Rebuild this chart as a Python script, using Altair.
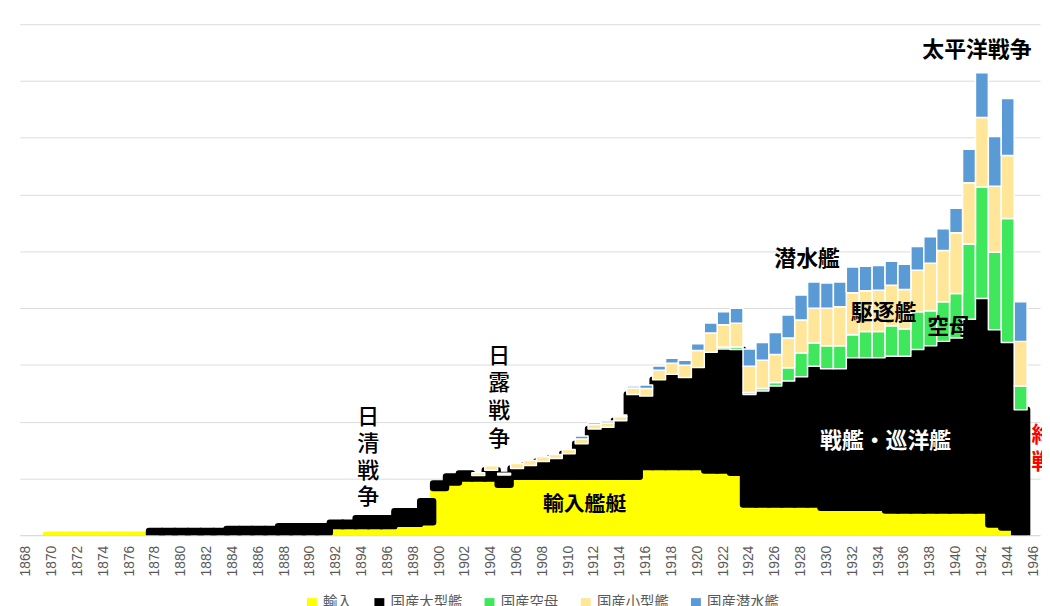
import altair as alt
import pandas as pd

years = list(range(1868, 1947))

# 輸入 (imported ships)
imports = [0, 0] + [0.14] * 8 + [0.14] * 6 + [0.4] * 8 + [1.6] * 5 + [2.0, 2.0, 2.3] + \
    [8.3, 9.3, 10.0, 10.0, 10.0, 8.9] + [10.3] * 10 + [12.0] * 5 + [11.4, 11.4, 11.0] + \
    [5.4] * 6 + [4.85] * 5 + [4.35] * 8 + [1.9, 1.35, 0, 0]

# 国産大型艦 (domestic large ships)
large = [0] * 10 + [0.6] * 6 + [0.7] * 4 + [1.2] * 4 + [0.6, 0.6, 1.4, 1.4, 1.4, 2.24, 2.24, 3.7] + \
    [0.8, 1.05, 0.87, 0.5, 1.45, 1.7, 1.45, 2.0, 2.7, 3.2, 4.06, 5.8, 8.4, 8.7, 9.87, 14.5,
     12.54, 15.37, 16.36, 15.79, 17.53, 20.84, 21.41, 21.69, 19.38, 20.01, 20.88, 21.76,
     22.52, 24.37, 24.47, 24.47, 26.39, 26.39, 26.39, 27.17, 27.17, 28.34, 29.04, 29.79,
     30.38, 33.7, 37.36, 34.28, 32.61, 22.09, 0]

# 国産空母 (domestic carriers)
carriers = [0] * 54 + [0.35, 0.47, 0.35, 0.42, 0.6, 2.33, 4.19, 4.09, 4.07, 4.07, 4.07, 4.64,
                       4.64, 5.36, 4.78, 6.68, 6.16, 6.98, 7.85, 13.26, 19.6, 13.66, 21.82, 4.19, 0]

# 国産小型艦 (domestic small ships)
small = [0] * 35 + [0.5, 0.8, 0.3, 0.87, 0.87, 0.82, 0.7, 0.75, 0.87, 0.78, 0.75, 0.74, 1.14,
                    1.29, 1.69, 1.92, 2.15, 3.02, 3.38, 3.89, 4.19, 4.64, 4.99, 4.94, 5.24, 5.81,
                    6.11, 6.58, 6.85, 7.38, 7.16, 7.28, 7.15, 6.98, 7.28, 8.37, 9.02, 10.7, 10.75,
                    12.27, 11.64, 11.11, 7.86, 0]

# 国産潜水艦 (domestic submarines)
subs = [0] * 43 + [0.52, 0.35, 0.35, 0.26, 0.35, 0.63, 0.75, 0.88, 0.87, 1.17, 1.75, 2.32, 2.62,
                   3.04, 3.14, 3.89, 4.07, 4.37, 4.64, 4.46, 4.37, 4.54, 4.31, 4.36, 4.24, 4.42,
                   4.19, 4.66, 3.84, 4.31, 5.93, 7.85, 8.73, 10.0, 6.98, 0]

series_names = ["輸入", "国産大型艦", "国産空母", "国産小型艦", "国産潜水艦"]
series_values = [imports, large, carriers, small, subs]
colors = ["#ffff00", "#000000", "#3ee75b", "#ffe699", "#5b9bd5"]

# annotations (horizontal)
ann_text = ["太平洋戦争", "潜水艦", "駆逐艦", "空母", "戦艦・巡洋艦", "輸入艦艇"]
ann_year = [1942, 1928, 1934, 1939, 1935, 1911]
ann_val = [85.5, 48.6, 39.1, 36.6, 16.5, 5.3]

# annotations (vertical, written top to bottom)
vert_text = ["日清戦争", "日露戦争", "終戦"]
vert_year = [1894, 1905, 1946]
vert_val = [20.8, 31.6, 17.6]

rows = []
for i, yr in enumerate(years):
    for k, (name, vals) in enumerate(zip(series_names, series_values)):
        rows.append({"year": yr, "series": name, "order": k, "value": vals[i]})
df = pd.DataFrame(rows)

ann_df = pd.DataFrame({"text": ann_text, "year": ann_year, "val": ann_val})
vert_df = pd.DataFrame({"text": vert_text, "year": vert_year, "val": vert_val})

FONT = "Noto Sans CJK JP"
x_scale = alt.Scale(type="band", domain=years, paddingInner=0, paddingOuter=0)
y_scale = alt.Scale(domain=[0, 90], nice=False, zero=True)

x_enc = alt.X(
    "year:O",
    scale=x_scale,
    axis=alt.Axis(
        values=[y for y in years if y % 2 == 0],
        labelAngle=270,
        labelFont="Liberation Sans",
        labelFontSize=14,
        labelColor="#595959",
        labelPadding=10,
        ticks=False,
        domain=True,
        domainColor="#d0d0d0",
        domainWidth=1,
        grid=False,
        title=None,
    ),
)
y_axis = alt.Axis(
    values=list(range(10, 91, 10)),
    grid=True,
    gridColor="#dcdcdc",
    gridWidth=1,
    domain=False,
    ticks=False,
    labels=False,
    title=None,
)
color_enc = alt.Color(
    "series:N",
    scale=alt.Scale(domain=series_names, range=colors),
    legend=alt.Legend(
        title=None,
        orient="none",
        legendX=287,
        legendY=576,
        direction="horizontal",
        symbolType="square",
        symbolSize=100,
        symbolStrokeWidth=0,
        labelFont=FONT,
        labelFontSize=14.5,
        labelColor="#595959",
        columnPadding=20,
        labelOffset=4,
        padding=0,
    ),
)

base = alt.Chart(df).transform_stack(
    stack="value",
    groupby=["year"],
    as_=["v0", "v1"],
    sort=[alt.SortField("order", "ascending")],
).transform_filter(alt.datum.value > 0)


def bar_layer(name, stroke, sw):
    return base.transform_filter(alt.datum.series == name).mark_bar(
        stroke=stroke, strokeWidth=sw, strokeJoin="round", clip=True
    ).encode(
        x=x_enc,
        y=alt.Y("v0:Q", scale=y_scale, axis=y_axis),
        y2="v1:Q",
        color=color_enc,
    )


def text_layer(idx, color, size, dx, weight="bold"):
    return alt.Chart(ann_df.iloc[[idx]]).mark_text(
        font=FONT, fontSize=size, fontWeight=weight, color=color, dx=dx,
        baseline="middle", align="center",
    ).encode(
        x=alt.X("year:O", scale=x_scale),
        y=alt.Y("val:Q", scale=y_scale),
        text="text:N",
    )


def vertical_layers(idx, color, size, dx, step, weight):
    # one character per text mark, stacked downward with a fixed line step
    word = vert_text[idx]
    out = []
    for j in range(len(word)):
        out.append(
            alt.Chart(vert_df.iloc[[idx]]).transform_calculate(
                ch=f"substring(datum.text, {j}, {j + 1})"
            ).mark_text(
                font=FONT, fontSize=size, fontWeight=weight, color=color,
                dx=dx, dy=j * step, baseline="middle", align="center",
            ).encode(
                x=alt.X("year:O", scale=x_scale),
                y=alt.Y("val:Q", scale=y_scale),
                text="ch:N",
            )
        )
    return out


layers = [
    bar_layer("輸入", "#ffff00", 6),
    bar_layer("国産大型艦", "#000000", 6.5),
    bar_layer("国産空母", "#ffffff", 1.5),
    bar_layer("国産小型艦", "#ffffff", 1.5),
    bar_layer("国産潜水艦", "#ffffff", 1.5),
    text_layer(0, "#000000", 22, -5),
    text_layer(1, "#000000", 22, 6),
    text_layer(2, "#000000", 22, 5),
    text_layer(3, "#000000", 22, 6),
    text_layer(4, "#ffffff", 22, -6),
    text_layer(5, "#000000", 21, 3),
]
layers += vertical_layers(0, "#000000", 22, 6, 27, 500)
layers += vertical_layers(1, "#000000", 22, -5, 27.8, 500)
layers += vertical_layers(2, "#ff0000", 22, 9, 26.5, "bold")

chart = alt.layer(*layers).properties(
    width=1028,
    height=515,
    padding={"left": 12, "top": 14, "right": 2, "bottom": 69},
    autosize=alt.AutoSizeParams(type="none"),
    background="#ffffff",
).configure_view(stroke=None)

chart.save("out.html", embed_options={"renderer": "svg", "actions": False})
